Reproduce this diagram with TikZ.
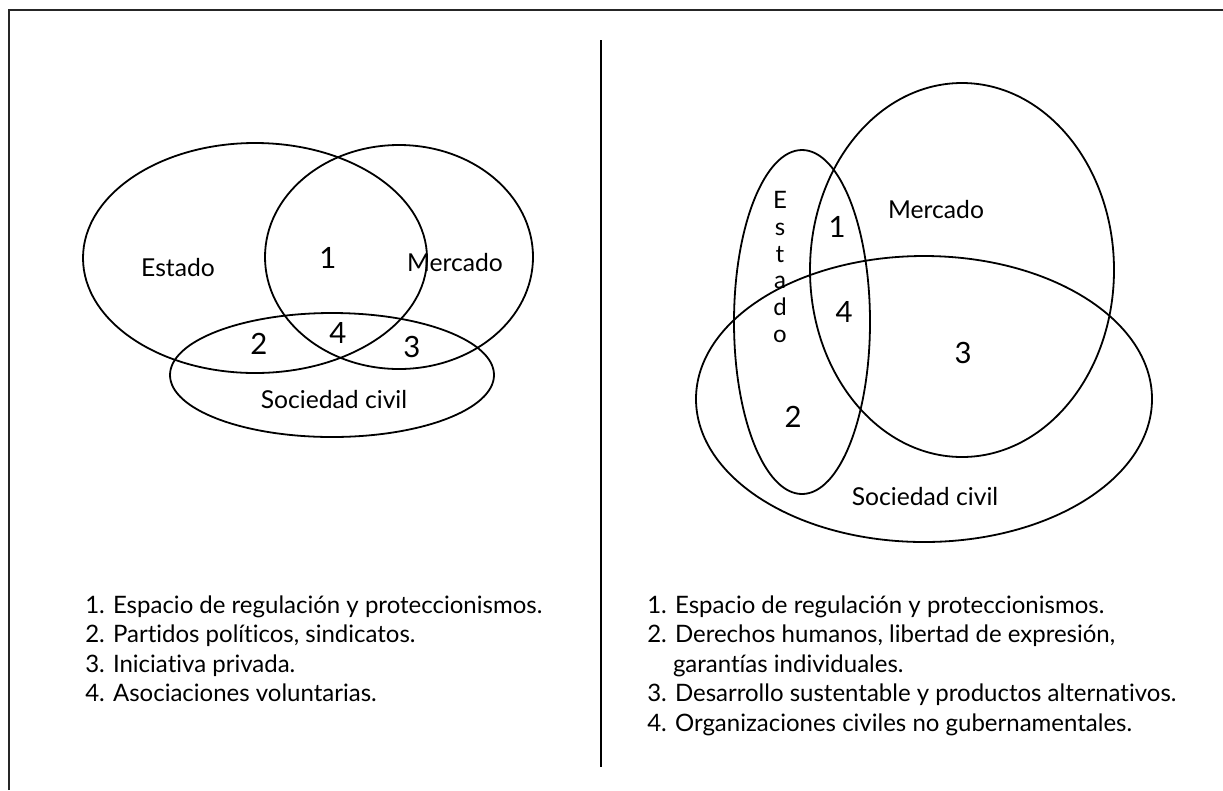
\documentclass[tikz,border=0pt]{standalone}
\usepackage{fontspec}
\setmainfont{Lato}[Ligatures={NoCommon}]
\begin{document}
\begin{tikzpicture}[x=0.75pt,y=-0.75pt,
  venn/.style={draw=black, line width=1.35pt},
  frameline/.style={draw=black!85, line width=1.6pt},
  lbl/.style={inner sep=0pt, font=\fontsize{18.5}{22}\selectfont},
  num/.style={inner sep=0pt, font=\fontsize{22}{26}\selectfont},
  leg/.style={inner sep=0pt, anchor=base west, font=\fontsize{18}{22}\selectfont},
  vlet/.style={inner sep=0pt, anchor=base, font=\fontsize{18}{22}\selectfont}]
\useasboundingbox (0,0) rectangle (1223,790);
% frame
\coordinate (fr1) at (9,790);
\coordinate (fr2) at (9,10);
\coordinate (fr3) at (1223,10);
\draw[frameline] (fr1) -- (fr2) -- (fr3);
% divider
\coordinate (dv1) at (601,40);
\coordinate (dv2) at (601,767);
\draw[black, line width=1.6pt] (dv1) -- (dv2);

% ---- left diagram
\draw[venn] (255,258) ellipse [x radius=129pt, y radius=86.25pt];
\draw[venn] (399,257) ellipse [x radius=100.5pt, y radius=84pt];
\draw[venn] (332,375) ellipse [x radius=121.5pt, y radius=46.5pt];
\node[lbl] (lE) at (178,268) {Estado};
\node[lbl] (lM) at (455,263) {Mercado};
\node[lbl] (lS) at (334,400) {Sociedad civil};
\node[num] (l1) at (328,258) {1};
\node[num] (l2) at (259,344) {2};
\node[num] (l4) at (338,333) {4};
\node[num] (l3) at (412,347) {3};

% ---- right diagram
\draw[venn] (962,270) ellipse [x radius=114pt, y radius=140.25pt];
\draw[venn] (924,399) ellipse [x radius=171pt, y radius=107.25pt];
\draw[venn] (802,322) ellipse [x radius=51pt, y radius=129pt];
\node[vlet] (rE1) at (780,208) {E};
\node[vlet] (rE2) at (780,235) {s};
\node[vlet] (rE3) at (780,262) {t};
\node[vlet] (rE4) at (780,288) {a};
\node[vlet] (rE5) at (780,315) {d};
\node[vlet] (rE6) at (780,342) {o};
\node[lbl] (rM) at (936,210) {Mercado};
\node[lbl] (rS) at (925,497) {Sociedad civil};
\node[num] (r1) at (837,227) {1};
\node[num] (r4) at (844,312) {4};
\node[num] (r3) at (963,353) {3};
\node[num] (r2) at (793,417) {2};

% ---- legends
\node[leg] (a1) at (85,613) {1. Espacio de regulación y proteccionismos.};
\node[leg] (a2) at (85,642.5) {2. Partidos políticos, sindicatos.};
\node[leg] (a3) at (85,672) {3. Iniciativa privada.};
\node[leg] (a4) at (85,701.5) {4. Asociaciones voluntarias.};

\node[leg] (b1) at (647,613) {1. Espacio de regulación y proteccionismos.};
\node[leg] (b2) at (647,642.5) {2. Derechos humanos, libertad de expresión,};
\node[leg] (b3) at (647,672) {\hphantom{2.\ }garantías individuales.};
\node[leg] (b4) at (647,701.5) {3. Desarrollo sustentable y productos alternativos.};
\node[leg] (b5) at (647,731) {4. Organizaciones civiles no gubernamentales.};
\end{tikzpicture}
\end{document}
